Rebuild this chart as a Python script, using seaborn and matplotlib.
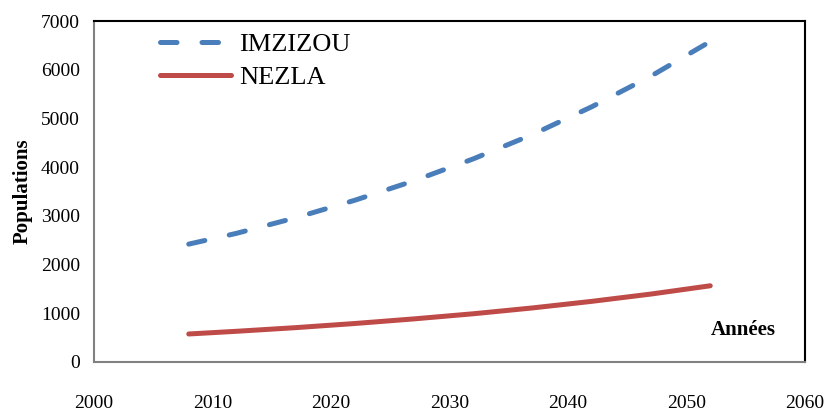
import numpy as np
import pandas as pd
import matplotlib
matplotlib.use("Agg")
import matplotlib.pyplot as plt
import seaborn as sns

# valeurs
annees = [2008, 2012, 2017, 2022, 2027, 2032, 2037, 2042, 2047, 2052]
imzizou = [2420, 2640, 2960, 3320, 3720, 4170, 4670, 5240, 5870, 6580]
nezla = [575, 630, 705, 790, 885, 990, 1110, 1245, 1395, 1565]
communes = ["IMZIZOU", "NEZLA"]
couleurs = {"IMZIZOU": "#4A7EBB", "NEZLA": "#BE4B48"}
x_ticks = [2000, 2010, 2020, 2030, 2040, 2050, 2060]
y_ticks = [0, 1000, 2000, 3000, 4000, 5000, 6000, 7000]

df = pd.DataFrame({
    "Année": annees * 2,
    "Population": imzizou + nezla,
    "Commune": ["IMZIZOU"] * len(annees) + ["NEZLA"] * len(annees),
})

sns.set_style("white")
plt.rcParams["font.family"] = ["Liberation Serif", "DejaVu Serif"]
plt.rcParams["text.color"] = "black"
plt.rcParams["xtick.color"] = "black"
plt.rcParams["ytick.color"] = "black"
plt.rcParams["axes.labelcolor"] = "black"

fig = plt.figure(figsize=(8.24, 4.13), dpi=100)
ax = fig.add_axes([0.114, 0.1235, 0.863, 0.8255])

sns.lineplot(data=df, x="Année", y="Population", hue="Commune", style="Commune",
             hue_order=communes, style_order=communes, palette=couleurs,
             dashes={"IMZIZOU": (3.3, 5), "NEZLA": ""}, linewidth=3.6,
             dash_capstyle="round", solid_capstyle="round", ax=ax, legend=True)

ax.set_xlim(2000, 2060)
ax.set_ylim(0, 7000)
ax.set_xticks(x_ticks)
ax.set_yticks(y_ticks)
ax.tick_params(axis="x", length=0, pad=24, labelsize=14)
ax.tick_params(axis="y", length=0, pad=10, labelsize=14)
ax.set_xlabel("")
ax.set_ylabel("Populations", fontsize=15, fontweight="bold", labelpad=6)
ax.grid(False)

for s in ["left", "bottom"]:
    ax.spines[s].set_color("#808080")
    ax.spines[s].set_linewidth(1.5)
for s in ["top", "right"]:
    ax.spines[s].set_color("black")
    ax.spines[s].set_linewidth(1.5)

ax.text(0.913, 0.094, "Années", transform=ax.transAxes, ha="center", va="center",
        fontsize=15, fontweight="bold")

handles, labels = ax.get_legend_handles_labels()
for h in handles:
    h.set_linewidth(3.6)
    h.set_dash_capstyle("round")
    h.set_solid_capstyle("round")
ax.legend(handles, labels, loc="upper left", bbox_to_anchor=(0.093, 0.965),
          frameon=False, fontsize=19, handlelength=2.7, handletextpad=0.3,
          labelspacing=0.35, borderpad=0, borderaxespad=0)

fig.savefig("out.png", dpi=100)
